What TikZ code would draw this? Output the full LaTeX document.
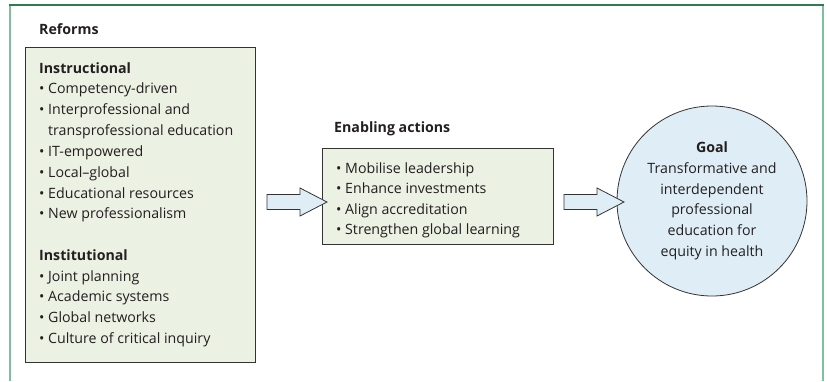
\documentclass[tikz,border=0pt]{standalone}
\usepackage{fontspec}
\setmainfont{Open Sans}
\definecolor{framedark}{HTML}{2E7D50}
\definecolor{framelight}{HTML}{7FBF9E}
\definecolor{boxgreen}{HTML}{EBF1E3}
\definecolor{goalblue}{HTML}{DFEEF6}
\definecolor{edgegray}{HTML}{333333}
\definecolor{textgray}{HTML}{231F20}
\begin{document}
\begin{tikzpicture}[x=1pt,y=-1pt,
  every node/.style={font=\fontsize{14.2}{20}\selectfont},
  txt/.style={anchor=base west, inner sep=0pt, text=textgray},
  hd/.style={txt, font=\fontsize{14.2}{20}\selectfont\bfseries},
  ctr/.style={txt, anchor=base},
  ctrhd/.style={hd, anchor=base},
  panel/.style={draw=edgegray, line width=1pt, fill=boxgreen, inner sep=0pt, outer sep=0pt, anchor=north west},
  goalshape/.style={circle, draw=edgegray, line width=0.8pt, fill=goalblue, inner sep=0pt, minimum size=190pt},
  blockarr/.pic={\draw[edgegray, line width=0.8pt, fill=goalblue, line join=miter]
     (-30,-7.5) -- (3,-7.5) -- (3,-14) -- (30,0) -- (3,14) -- (3,7.5) -- (-30,7.5) -- cycle;}
]
\useasboundingbox (0,0) rectangle (827,381);
% frame
\draw[framelight, line width=2pt] (10,5) -- (10,381);
\draw[framelight, line width=2pt] (822.5,5) -- (822.5,381);
\draw[framedark, line width=2pt] (9,5) -- (823.5,5);

% reforms
\node[hd] (reftitle) at (39,34) {Reforms};
\node[panel, minimum width=230pt, minimum height=315pt] (reforms) at (25,47) {};
\node[hd] (instr) at (39,73) {Instructional};
\newcommand{\bul}{\makebox[9pt][l]{•}}
\node[txt] (i1) at (39,93) {\bul Competency-driven};
\node[txt] (i2) at (39,114) {\bul Interprofessional and};
\node[txt] (i2b) at (48,135) {transprofessional education};
\node[txt] (i3) at (39,156) {\bul IT-empowered};
\node[txt] (i4) at (39,177) {\bul Local–global};
\node[txt] (i5) at (39,198) {\bul Educational resources};
\node[txt] (i6) at (39,218) {\bul New professionalism};
\node[hd] (inst) at (39,260) {Institutional};
\node[txt] (n1) at (39,281) {\bul Joint planning};
\node[txt] (n2) at (39,301) {\bul Academic systems};
\node[txt] (n3) at (39,322) {\bul Global networks};
\node[txt] (n4) at (39,343) {\bul Culture of critical inquiry};

% enabling actions
\node[hd] (enabtitle) at (334,132) {Enabling actions};
\node[panel, minimum width=231pt, minimum height=96pt] (enab) at (322,148) {};
\node[txt] (e1) at (336,173) {\bul Mobilise leadership};
\node[txt] (e2) at (336,193.5) {\bul Enhance investments};
\node[txt] (e3) at (336,214) {\bul Align accreditation};
\node[txt] (e4) at (336,234.5) {\bul Strengthen global learning};

% goal
\node[goalshape] (goal) at (712,201) {};
\node[ctrhd] (g0) at (712,152.5) {Goal};
\node[ctr] (g1) at (712,173) {Transformative and};
\node[ctr] (g2) at (712,194) {interdependent};
\node[ctr] (g3) at (712,214.5) {professional};
\node[ctr] (g4) at (712,235) {education for};
\node[ctr] (g5) at (712,256) {equity in health};

% block arrows
\pic at (297,202) {blockarr};
\pic at (594,202) {blockarr};
\end{tikzpicture}
\end{document}
